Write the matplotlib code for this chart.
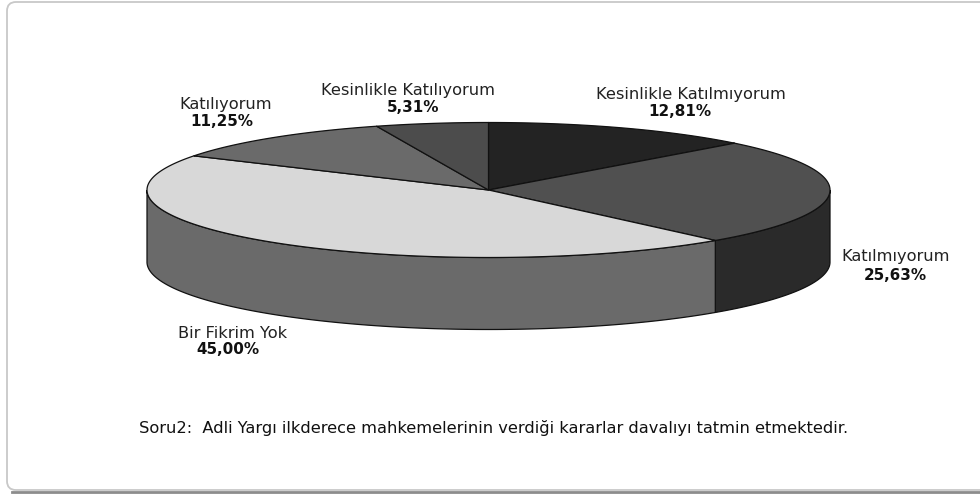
import numpy as np
import matplotlib
matplotlib.use("Agg")
import matplotlib.pyplot as plt
from matplotlib.patches import Polygon, FancyBboxPatch

plt.rcParams['font.family'] = ['DejaVu Sans']

categories = ["Kesinlikle Katılmıyorum", "Katılmıyorum", "Bir Fikrim Yok", "Katılıyorum", "Kesinlikle Katılıyorum"]
values = [12.81, 25.63, 45.00, 11.25, 5.31]
value_labels = ["12,81%", "25,63%", "45,00%", "11,25%", "5,31%"]
top_colors = ["#232323", "#505050", "#d8d8d8", "#6a6a6a", "#4c4c4c"]
side_colors = ["#232323", "#2a2a2a", "#6a6a6a", "#6a6a6a", "#4c4c4c"]
name_pos = [(690.5, 94), (896, 257), (233, 333), (226, 105), (408, 91)]
value_pos = [(680, 112), (895.5, 275), (228, 350), (222, 122), (413.5, 108)]
note = "Soru2:  Adli Yargı ilkderece mahkemelerinin verdiği kararlar davalıyı tatmin etmektedir."

cx, cy, rx, ry, depth = 488.5, 190, 341.5, 67.5, 72


def rim(a1, a2):
    t = np.radians(np.linspace(a1, a2, max(int(abs(a2 - a1) * 2), 2)))
    return np.column_stack([cx + rx * np.sin(t), cy - ry * np.cos(t)])


fig = plt.figure(figsize=(9.8, 4.95), dpi=100)
ax = fig.add_axes([0, 0, 1, 1])
ax.set_xlim(0, 980)
ax.set_ylim(495, 0)
ax.axis("off")

# frame, the right side runs off the picture
ax.add_patch(FancyBboxPatch((7, 2), 1000, 488, boxstyle="round,pad=0,rounding_size=9",
                            fc="white", ec="#c8c8c8", lw=1.3))
ax.plot([12, 980], [491.5, 491.5], color="#8c8c8c", lw=2)

edges = np.cumsum([0] + values) * 3.6

# side wall, only the front half shows
for i in range(len(values)):
    a1, a2 = max(edges[i], 90), min(edges[i + 1], 270)
    if a2 <= a1:
        continue
    p = rim(a1, a2)
    wall = np.vstack([p, (p + [0, depth])[::-1]])
    ax.add_patch(Polygon(wall, closed=True, fc=side_colors[i], ec="#111111", lw=0.9, zorder=2))

# top face
for i in range(len(values)):
    p = rim(edges[i], edges[i + 1])
    ax.add_patch(Polygon(np.vstack([[cx, cy], p]), closed=True, fc=top_colors[i],
                         ec="#111111", lw=0.9, joinstyle="round", zorder=3))

for name, val, (x, y), (vx, vy) in zip(categories, value_labels, name_pos, value_pos):
    ax.text(x, y, name, ha="center", va="center", fontsize=11.7, color="#222222")
    ax.text(vx, vy, val, ha="center", va="center", fontsize=10.9, fontweight="bold", color="#111111")

ax.text(139, 428, note, ha="left", va="center", fontsize=11.66, color="#111111")

fig.savefig("out.png", dpi=100)
